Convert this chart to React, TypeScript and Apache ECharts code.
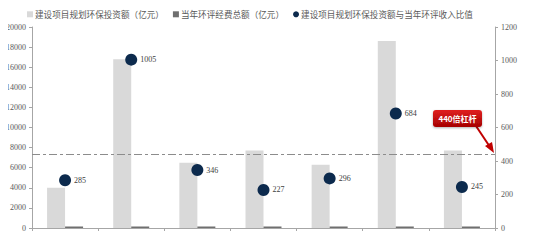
import React, { useEffect, useRef } from "react";
import * as echarts from "echarts";

const years = ["2004", "2005", "2006", "2007", "2008", "2009", "2010"];
const investment = [4000, 16800, 6500, 7700, 6300, 18600, 7700];
const evalBudget = [14, 17, 19, 34, 21, 27, 31];
const ratio = [285, 1005, 346, 227, 296, 684, 245];
const leverageLine = 440;
const leftTicks = { min: 0, max: 20000, interval: 2000 };
const rightTicks = { min: 0, max: 1200, interval: 200 };

const serif = "'Liberation Serif', 'DejaVu Serif', serif";
const cjk = "'Noto Sans CJK SC', sans-serif";
const labelColor = "#595959";

export default function App() {
  const ref = useRef<HTMLDivElement>(null);
  useEffect(() => {
    const chart = echarts.init(ref.current!, undefined, { renderer: "svg" });
    const axisLabel = {
      fontFamily: serif,
      fontSize: 8,
      color: labelColor,
      margin: 6,
      formatter: (v: number) => String(v),
    };
    chart.setOption({
      animation: false,
      backgroundColor: "#ffffff",
      textStyle: { color: labelColor },
      legend: {
        top: 5,
        left: 22,
        itemWidth: 6,
        itemHeight: 6,
        itemGap: 9,
        textStyle: { fontFamily: cjk, fontSize: 8.6, color: labelColor, padding: [0, 0, 0, -3] },
        data: [
          { name: "建设项目规划环保投资额（亿元）", icon: "rect" },
          { name: "当年环评经费总额（亿元）", icon: "rect" },
          { name: "建设项目规划环保投资额与当年环评收入比值", icon: "circle", itemStyle: { color: "#0c2a4d", opacity: 1 } },
        ],
      },
      grid: { left: 32, right: 42, top: 27, bottom: 14 },
      xAxis: {
        type: "category",
        data: years,
        axisLine: { lineStyle: { color: "#a6a6a6" } },
        axisTick: { show: true, length: 3, lineStyle: { color: "#a6a6a6" } },
        axisLabel: { fontFamily: serif, fontSize: 8, color: labelColor, margin: 5 },
      },
      yAxis: [
        {
          type: "value",
          ...leftTicks,
          splitLine: { show: false },
          axisLine: { show: true, lineStyle: { color: "#a6a6a6" } },
          axisTick: { show: true, length: 3, lineStyle: { color: "#a6a6a6" } },
          axisLabel,
        },
        {
          type: "value",
          ...rightTicks,
          splitLine: { show: false },
          axisLine: { show: true, lineStyle: { color: "#a6a6a6" } },
          axisTick: { show: true, length: 3, lineStyle: { color: "#a6a6a6" } },
          axisLabel,
        },
      ],
      series: [
        {
          name: "建设项目规划环保投资额（亿元）",
          type: "bar",
          data: investment,
          barWidth: 18,
          barGap: "0%",
          itemStyle: { color: "#d9d9d9" },
        },
        {
          name: "当年环评经费总额（亿元）",
          type: "bar",
          data: evalBudget,
          barWidth: 18,
          barMinHeight: 1.5,
          itemStyle: { color: "#6f6f6f" },
        },
        {
          name: "建设项目规划环保投资额与当年环评收入比值",
          type: "scatter",
          yAxisIndex: 1,
          data: ratio,
          symbolSize: 12,
          itemStyle: { color: "#0c2a4d", opacity: 1 },
          label: {
            show: true,
            position: "right",
            distance: 3,
            fontFamily: serif,
            fontSize: 8,
            color: "#404040",
          },
          markLine: {
            silent: true,
            symbol: "none",
            label: { show: false },
            lineStyle: { color: "#8c8c8c", width: 1, type: [8, 3, 3, 3] },
            data: [{ yAxis: leverageLine }],
          },
        },
      ],
      graphic: [
        {
          type: "line",
          shape: { x1: 476, y1: 126, x2: 490, y2: 147 },
          style: { stroke: "#c00000", lineWidth: 2 },
        },
        {
          type: "polygon",
          shape: { points: [[494, 153], [485, 146], [492, 142]] },
          style: { fill: "#c00000" },
        },
        {
          type: "rect",
          shape: { x: 433, y: 110, width: 49, height: 17, r: 3 },
          style: {
            fill: new echarts.graphic.LinearGradient(0, 0, 0, 1, [
              { offset: 0, color: "#e02020" },
              { offset: 1, color: "#a50000" },
            ]),
            shadowBlur: 2,
            shadowColor: "rgba(0,0,0,0.3)",
            shadowOffsetY: 1,
          },
        },
        {
          type: "text",
          x: 457.5,
          y: 118.5,
          style: {
            text: "440倍杠杆",
            fill: "#ffffff",
            fontFamily: cjk,
            fontSize: 8,
            fontWeight: "bold",
            align: "center",
            verticalAlign: "middle",
          },
        },
      ],
    });
    return () => chart.dispose();
  }, []);
  return <div ref={ref} style={{ width: 537, height: 242, margin: -8 }} />;
}
